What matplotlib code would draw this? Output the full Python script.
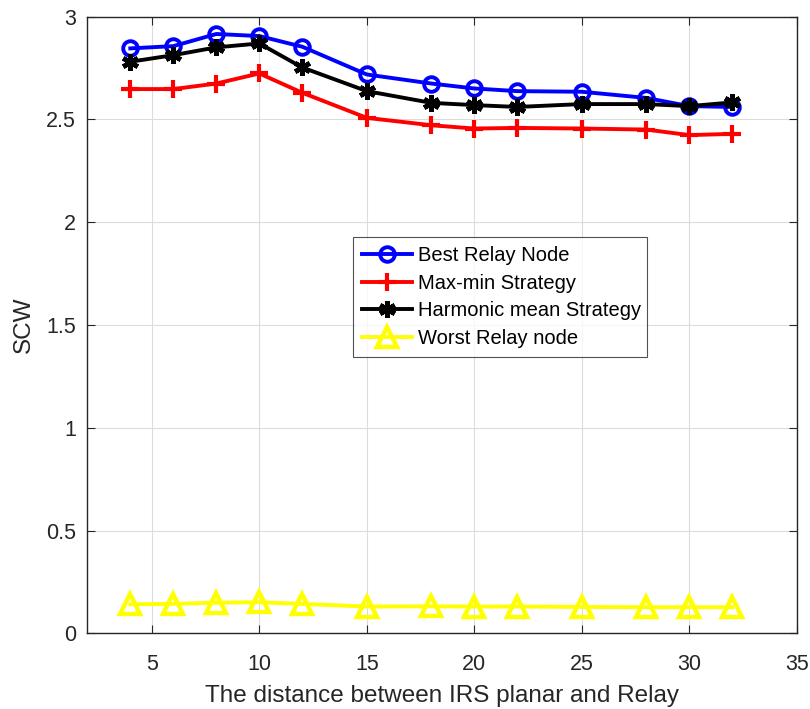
import matplotlib
matplotlib.use("Agg")
import matplotlib.pyplot as plt

plt.rcParams['font.family'] = ['Liberation Sans', 'DejaVu Sans']

distance = [4, 6, 8, 10, 12, 15, 18, 20, 22, 25, 28, 30, 32]
best_relay = [2.846, 2.857, 2.916, 2.906, 2.854, 2.719, 2.675, 2.651, 2.638,
              2.635, 2.605, 2.565, 2.561]
max_min = [2.648, 2.648, 2.675, 2.724, 2.630, 2.508, 2.472, 2.456, 2.459,
           2.456, 2.451, 2.424, 2.430]
harmonic = [2.781, 2.813, 2.851, 2.870, 2.753, 2.638, 2.581, 2.570, 2.561,
            2.575, 2.575, 2.565, 2.583]
worst_relay = [0.141, 0.143, 0.149, 0.151, 0.143, 0.130, 0.131, 0.130, 0.130,
               0.128, 0.127, 0.127, 0.127]

labels = ['Best Relay Node', 'Max-min Strategy', 'Harmonic mean Strategy',
          'Worst Relay node']

fig = plt.figure(figsize=(8.1, 7.09), dpi=100)
ax = fig.add_axes([0.1078, 0.1068, 0.8758, 0.8696])

lw = 2.8
ax.plot(distance, best_relay, color='#0000ff', lw=lw, marker='o', ms=10.5,
        mfc='none', mew=2.8, label=labels[0], zorder=3)
ax.plot(distance, max_min, color='#ff0000', lw=lw, marker='+', ms=13.5,
        mew=3.0, label=labels[1], zorder=3)
ax.plot(distance, harmonic, color='#000000', lw=lw, marker=(6, 2, 0), ms=12,
        mew=3.4, label=labels[2], zorder=4)
ax.plot(distance, worst_relay, color='#ffff00', lw=lw, marker='^', ms=15,
        mfc='none', mew=3.2, label=labels[3], zorder=3)

ax.set_xlim(2, 35)
ax.set_ylim(0, 3)
ax.set_xticks([5, 10, 15, 20, 25, 30, 35])
ax.set_yticks([0, 0.5, 1, 1.5, 2, 2.5, 3])
ax.set_yticklabels(['0', '0.5', '1', '1.5', '2', '2.5', '3'])

ax.grid(True, color='#dcdcdc', lw=0.8)
ax.set_axisbelow(True)
for s in ax.spines.values():
    s.set_color('#262626')
    s.set_linewidth(1.0)
ax.tick_params(direction='in', top=True, right=True, length=6, width=0.8,
               colors='#262626', labelsize=15.5)
ax.tick_params(axis='x', pad=15)
ax.tick_params(axis='y', pad=8)

ax.set_xlabel('The distance between IRS planar and Relay', fontsize=17.5,
              color='#262626', labelpad=7)
ax.set_ylabel('SCW', fontsize=17.5, color='#262626', labelpad=8)

leg = ax.legend(loc='lower left', bbox_to_anchor=(0.374, 0.4486, 0.415, 0.192),
                mode='expand', fontsize=14.5, frameon=True, fancybox=False,
                edgecolor='#262626', borderpad=0.45, labelspacing=0.42,
                handlelength=2.5, handletextpad=0.3, borderaxespad=0)
leg.get_frame().set_linewidth(0.8)

fig.savefig('out.png', dpi=100)
